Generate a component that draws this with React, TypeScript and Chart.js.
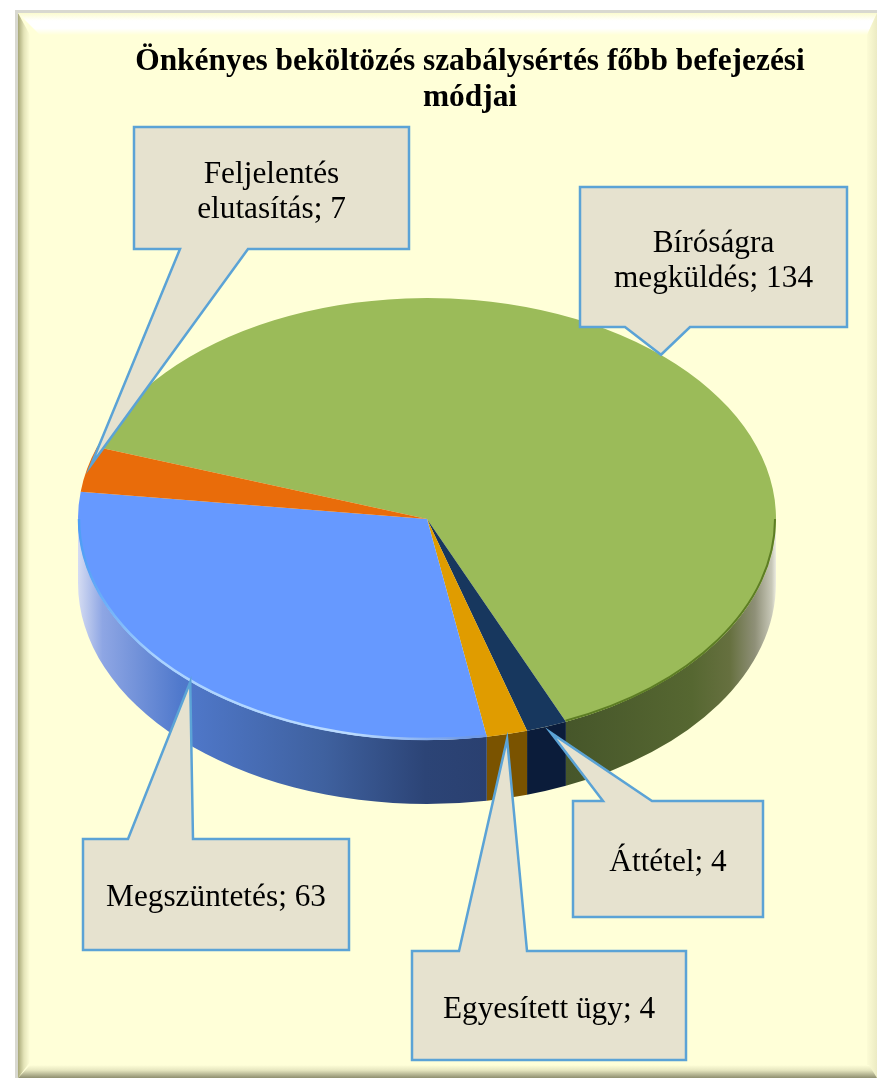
import React, { useEffect, useRef } from "react";
import { Chart, registerables } from "chart.js";

Chart.register(...registerables);

const categories = ["Bíróságra megküldés", "Áttétel", "Egyesített ügy", "Megszüntetés", "Feljelentés elutasítás"];
const values = [134, 4, 4, 63, 7];
const topColors = ["#9bbb59", "#17375e", "#e09c00", "#6699ff", "#e96c0a"];
const titleLines = ["Önkényes beköltözés szabálysértés főbb befejezési", "módjai"];
const labelLines = [
  ["Bíróságra", "megküldés; 134"],
  ["Áttétel; 4"],
  ["Egyesített ügy; 4"],
  ["Megszüntetés; 63"],
  ["Feljelentés", "elutasítás; 7"],
];
// callout layout: box x0, y0, x1, y1, pointer base x0, x1, first baseline, tip nudge x, y
const calloutBoxes = [
  [580, 187, 847, 327, 625, 690, 252, -3, -2],
  [573, 801, 763, 917, 603, 652, 871, 4, 6],
  [412, 951, 686, 1060, 459, 527, 1018, 0, 5],
  [83, 839, 349, 950, 128, 193, 906, 4, 3],
  [134, 127, 409, 249, 180, 248, 183, 4, -4],
];
const wallStops: [number, string][][] = [
  [[0, "#46562a"], [0.6, "#566731"], [0.78, "#66703f"], [0.9, "#8f9078"], [0.98, "#c8c8b8"], [1, "#ecece0"]],
  [[0, "#0b1c3a"], [1, "#0b1c3a"]],
  [[0, "#7a5300"], [1, "#7a5300"]],
  [[0, "#d5dcf2"], [0.06, "#8ea6e4"], [0.25, "#5079cc"], [0.6, "#3f619f"], [0.85, "#2c4476"], [1, "#2a4070"]],
  [[0, "#a0500a"], [1, "#a0500a"]],
];

const W = 877;
const H = 1078;
const SQUASH = 221 / 349;
const DEPTH = 64;
const ROTATION = 289;
const TWO_PI = Math.PI * 2;

function visibleRange(a0: number, a1: number): [number, number] | null {
  let s = a0 % TWO_PI;
  if (s < 0) s += TWO_PI;
  const e = s + (a1 - a0);
  if (s > Math.PI) {
    if (e < TWO_PI) return null;
    return [0, Math.min(e - TWO_PI, Math.PI)];
  }
  return [s, Math.min(e, Math.PI)];
}

const panelPlugin = {
  id: "panel",
  beforeDraw(chart: any) {
    const c = chart.ctx;
    c.save();
    c.fillStyle = "#ffffff";
    c.fillRect(0, 0, W, H);
    c.fillStyle = "#d8d8d0";
    c.fillRect(15, 10, W - 15, H - 10);
    c.fillStyle = "#ffffd8";
    c.fillRect(18, 13, W - 18, H - 13);
    // left bevel
    let g = c.createLinearGradient(18, 0, 30, 0);
    g.addColorStop(0, "#a8a878");
    g.addColorStop(0.5, "#e4e4b8");
    g.addColorStop(1, "#ffffd8");
    c.fillStyle = g;
    c.beginPath();
    c.moveTo(18, 13); c.lineTo(30, 35); c.lineTo(30, 1062); c.lineTo(18, 1078); c.closePath();
    c.fill();
    // top bevel
    g = c.createLinearGradient(0, 13, 0, 35);
    g.addColorStop(0, "#fbfbcf");
    g.addColorStop(0.35, "#ffffff");
    g.addColorStop(0.7, "#ffffff");
    g.addColorStop(1, "#ffffd8");
    c.fillStyle = g;
    c.beginPath();
    c.moveTo(18, 13); c.lineTo(W, 13); c.lineTo(W - 10, 35); c.lineTo(40, 35); c.closePath();
    c.fill();
    // right bevel
    g = c.createLinearGradient(W - 12, 0, W, 0);
    g.addColorStop(0, "#ffffd8");
    g.addColorStop(1, "#ecebc4");
    c.fillStyle = g;
    c.beginPath();
    c.moveTo(W, 13); c.lineTo(W - 10, 35); c.lineTo(W - 10, H - 10); c.lineTo(W, H); c.closePath();
    c.fill();
    // bottom bevel
    g = c.createLinearGradient(0, H - 13, 0, H);
    g.addColorStop(0, "#ffffd8");
    g.addColorStop(0.4, "#e6e6bf");
    g.addColorStop(1, "#8f8f70");
    c.fillStyle = g;
    c.beginPath();
    c.moveTo(18, H); c.lineTo(30, H - 13); c.lineTo(W - 8, H - 13); c.lineTo(W, H); c.closePath();
    c.fill();
    // title
    c.fillStyle = "#000000";
    c.font = "bold 31.4px 'Liberation Serif'";
    c.textAlign = "center";
    c.textBaseline = "alphabetic";
    titleLines.forEach((t, i) => c.fillText(t, 470, 70 + i * 36));
    c.restore();
  },
};

const pie3dPlugin = {
  id: "pie3d",
  beforeDatasetsDraw(chart: any) {
    const c = chart.ctx;
    const arcs = chart.getDatasetMeta(0).data;
    const { x, y, outerRadius: r } = arcs[0];
    const ry = r * SQUASH;
    c.save();
    arcs.forEach((a: any, i: number) => {
      const range = visibleRange(a.startAngle, a.endAngle);
      if (!range) return;
      const [s, e] = range;
      const xs = x + r * Math.cos(e);
      const xe = x + r * Math.cos(s);
      const g = c.createLinearGradient(xs, 0, xe, 0);
      wallStops[i].forEach(([p, col]) => g.addColorStop(p, col));
      c.fillStyle = g;
      c.beginPath();
      c.ellipse(x, y, r, ry, 0, s, e, false);
      c.ellipse(x, y + DEPTH, r, ry, 0, e, s, true);
      c.closePath();
      c.fill();
    });
    c.restore();
    c.save();
    c.translate(x, y);
    c.scale(1, SQUASH);
    c.translate(-x, -y);
  },
  afterDatasetsDraw(chart: any) {
    const c = chart.ctx;
    c.restore();
    const arcs = chart.getDatasetMeta(0).data;
    const { x, y, outerRadius: r } = arcs[0];
    const ry = r * SQUASH;
    c.save();
    // rim highlight on the front edge
    const rimG = arcs[3];
    const rg = visibleRange(rimG.startAngle, rimG.endAngle);
    if (rg) {
      const g = c.createLinearGradient(x - r, 0, x + 40, 0);
      g.addColorStop(0, "#4d9df5");
      g.addColorStop(0.2, "#a9d2ff");
      g.addColorStop(0.7, "#bcdcff");
      g.addColorStop(1, "#6f9ae8");
      c.strokeStyle = g;
      c.lineWidth = 2.5;
      c.beginPath();
      c.ellipse(x, y, r - 1, ry - 1, 0, rg[0], rg[1], false);
      c.stroke();
    }
    const rimB = arcs[0];
    const rb = visibleRange(rimB.startAngle, rimB.endAngle);
    if (rb) {
      c.strokeStyle = "#5d7d24";
      c.lineWidth = 2;
      c.beginPath();
      c.ellipse(x, y, r - 1, ry - 1, 0, 0, rb[1], false);
      c.stroke();
    }
    c.restore();
  },
};

const calloutPlugin = {
  id: "callouts",
  afterDraw(chart: any) {
    const c = chart.ctx;
    const arcs = chart.getDatasetMeta(0).data;
    c.save();
    arcs.forEach((a: any, i: number) => {
      const [x0, y0, x1, y1, b0, b1, base, nx, ny] = calloutBoxes[i];
      const mid = (a.startAngle + a.endAngle) / 2;
      const tx = a.x + Math.cos(mid) * a.outerRadius + nx;
      const ty = a.y + Math.sin(mid) * a.outerRadius * SQUASH + ny;
      c.beginPath();
      c.moveTo(x0, y0);
      if (ty < y0) {
        c.lineTo(b0, y0); c.lineTo(tx, ty); c.lineTo(b1, y0);
      }
      c.lineTo(x1, y0);
      c.lineTo(x1, y1);
      if (ty > y1) {
        c.lineTo(b1, y1); c.lineTo(tx, ty); c.lineTo(b0, y1);
      }
      c.lineTo(x0, y1);
      c.closePath();
      c.fillStyle = "#e6e2cf";
      c.fill();
      c.strokeStyle = "#5ba3d6";
      c.lineWidth = 2.5;
      c.lineJoin = "miter";
      c.stroke();
      c.fillStyle = "#000000";
      c.font = "31.3px 'Liberation Serif'";
      c.textAlign = "center";
      c.textBaseline = "alphabetic";
      labelLines[i].forEach((t, j) => c.fillText(t, (x0 + x1) / 2, base + j * 35));
    });
    c.restore();
  },
};

export default function App() {
  const ref = useRef<HTMLCanvasElement>(null);
  useEffect(() => {
    const chart = new Chart(ref.current as HTMLCanvasElement, {
      type: "pie",
      data: {
        labels: categories,
        datasets: [{ data: values, backgroundColor: topColors, borderWidth: 0 }],
      },
      options: {
        responsive: false,
        animation: false,
        rotation: ROTATION,
        layout: { padding: { left: 78, right: 101, top: 170, bottom: 210 } },
        plugins: { legend: { display: false }, tooltip: { enabled: false }, title: { display: false } },
      },
      plugins: [panelPlugin, pie3dPlugin, calloutPlugin],
    } as any);
    return () => chart.destroy();
  }, []);
  return (
    <div style={{ position: "absolute", left: 0, top: 0, width: W, height: H }}>
      <canvas ref={ref} width={W} height={H} style={{ display: "block" }} />
    </div>
  );
}
